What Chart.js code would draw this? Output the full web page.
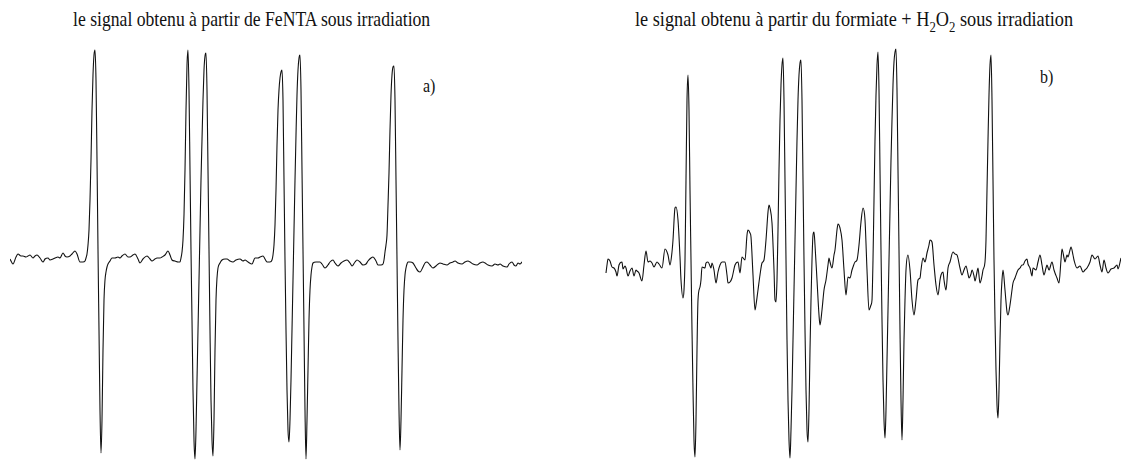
<!DOCTYPE html>
<html>
<head>
<meta charset="utf-8">
<script src="https://cdn.jsdelivr.net/npm/chart.js@4/dist/chart.umd.min.js"></script>
<style>
  html, body { margin: 0; padding: 0; background: #fff; }
  body { width: 1121px; height: 463px; position: relative; overflow: hidden;
         font-family: "Liberation Serif", "Times New Roman", serif; color: #111; }
  canvas { position: absolute; top: 0; }
  #specA { left: 10px; }
  #specB { left: 605px; }
  .title { position: absolute; font-size: 21px; line-height: 21px; white-space: nowrap;
           transform-origin: 0 0; }
  .title sub { font-size: 0.7em; vertical-align: -0.38em; line-height: 0; }
  .tag { position: absolute; font-size: 19px; line-height: 19px; transform-origin: 0 0;
         transform: scaleX(0.84); }
</style>
</head>
<body>
<div class="title" id="titleA" style="left:73px; top:9px; transform: scaleX(0.84);">le signal obtenu à partir de FeNTA sous irradiation</div>
<div class="title" id="titleB" style="left:635px; top:9px; transform: scaleX(0.87);">le signal obtenu à partir du formiate + H<sub>2</sub>O<sub>2</sub> sous irradiation</div>
<div class="tag" style="left:423px; top:76px;">a)</div>
<div class="tag" style="left:1040px; top:67px;">b)</div>
<canvas id="specA" width="512" height="463"></canvas>
<canvas id="specB" width="516" height="463"></canvas>
<script>
// a) FeNTA under irradiation: relative field (arb. units) and first-derivative signal (arb. units)
const fieldA = [0,3,6,8,11,13,16,18,20,23,25,27,30,33,35,38,40,43,45,48,50,53,55,57,60,62,65,67,70,73,75,76,77,78,79,80,81,82,83,84,85,86,87,88,89,90,91,92,93,94,95,96,97,98,100,102,105,108,110,112,115,118,120,123,125,128,130,133,137,140,142,145,147,150,152,155,158,160,162,165,168,170,171,172,173,174,175,176,177,178,179,180,181,182,183,184,185,186,187,188,189,190,191,192,193,194,195,196,197,198,199,200,201,202,203,204,205,206,207,208,210,212,215,217,220,223,226,230,233,235,238,242,245,248,250,253,255,257,260,262,263,264,265,266,267,268,269,270,271,272,273,274,275,276,277,278,279,280,281,282,283,284,285,286,287,288,289,290,291,292,293,294,295,296,297,298,299,300,301,302,303,306,310,312,315,318,320,323,325,328,331,334,337,340,342,345,347,350,353,356,358,361,363,366,368,371,373,374,375,376,377,378,379,380,381,382,383,384,385,386,387,388,389,390,391,392,393,394,395,396,397,398,400,403,406,408,410,413,415,417,420,423,426,430,433,437,440,443,445,448,452,455,458,460,463,467,470,473,475,478,482,485,488,490,493,497,499,502,504,506,508,510,512];
const signalA = [1,-4,3,6,4,4,3,4,5,2,4,5,2,-2,1,2,0,1,2,3,2,7,4,3,4,6,9,6,-2,-2,-1,2,6,15,30,60,100,150,185,205,210,180,100,10,-70,-150,-193,-160,-90,-40,-20,-12,-7,-4,-1,2,2,3,2,4,6,3,3,5,6,1,-3,1,4,1,-1,1,2,2,3,5,9,5,0,-1,-2,-2,2,8,20,45,90,150,195,210,170,90,10,-60,-130,-180,-199,-170,-120,-70,-20,30,80,120,160,190,204,207,170,90,10,-70,-140,-180,-196,-160,-90,-40,-18,-8,-3,0,1,1,-1,-2,0,1,-1,0,-2,-4,2,2,3,4,1,-2,-2,0,5,15,35,70,115,150,170,182,188,190,160,80,0,-70,-130,-170,-182,-160,-120,-70,-20,30,80,125,165,190,202,205,170,90,10,-70,-150,-199,-160,-110,-60,-30,-15,-7,-3,-2,-2,-4,-8,-5,-2,0,-3,-6,-3,-1,0,-3,-6,-2,0,-2,-5,-4,-1,2,3,-1,-5,-5,-4,0,8,15,25,55,87,130,165,185,193,194,160,80,0,-80,-150,-190,-160,-110,-60,-30,-15,-8,-4,-2,-2,-3,-8,-11,-12,-7,-3,-2,-5,-8,-6,-3,-4,-5,-3,-2,-1,-3,-4,-2,-1,-2,-4,-5,-3,-2,-3,-5,-6,-4,-5,-4,-6,-7,-4,-2,-5,-6,-3,-4,-2];

// b) formate + H2O2 under irradiation
const fieldB = [1,2,3,5,7,9,11,12,14,17,18,20,21,23,25,27,29,31,32,34,37,39,41,43,45,47,49,52,54,57,60,63,65,67,68,70,71,73,75,76,78,79,80,81,82,83,84,85,86,87,88,89,90,91,92,93,95,96,97,100,101,103,105,106,107,109,111,113,115,117,120,122,123,125,127,130,133,135,137,140,142,143,145,146,148,150,151,153,155,157,159,161,163,164,165,167,169,170,171,172,173,174,175,176,177,178,179,180,181,182,183,184,185,186,187,188,189,190,191,192,193,194,195,196,197,198,199,200,201,202,203,204,205,206,207,208,209,210,212,214,215,217,219,221,223,224,225,227,229,230,232,233,235,237,239,241,243,245,247,248,250,252,254,256,258,260,262,264,266,267,268,269,270,271,272,273,274,275,276,277,278,279,280,281,282,283,284,285,286,287,288,289,290,291,292,293,294,295,296,297,298,299,300,301,303,305,307,309,311,313,315,316,318,320,322,324,325,327,329,331,333,335,336,338,339,341,343,345,348,350,352,355,357,359,361,363,364,366,367,369,370,372,373,375,377,378,380,381,382,383,384,385,386,387,388,389,390,391,392,393,394,395,396,397,398,400,402,403,405,407,408,410,413,415,417,418,420,422,423,425,427,428,431,433,435,437,439,441,442,444,447,449,450,452,454,456,457,459,460,462,463,465,466,468,469,472,475,478,480,482,485,487,490,493,495,497,499,501,503,506,509,512,513,516];
const signalB = [-5,3,9,7,1,0,-4,-8,3,6,-1,2,0,-8,-3,0,-8,-2,-3,-5,-13,3,17,6,7,5,1,6,4,0,19,13,3,16,28,60,61,48,11,-12,-30,-22,8,88,168,193,158,78,8,-62,-122,-172,-189,-152,-82,-32,-19,-12,1,0,5,6,2,0,5,-2,-15,-4,3,6,6,-7,-15,-14,-10,3,6,-5,11,8,33,38,35,31,-7,-42,-37,-22,-7,5,8,28,56,63,60,45,-2,-32,-34,-12,38,98,148,183,203,210,168,88,8,-72,-132,-172,-190,-162,-122,-72,-22,28,78,128,168,193,205,208,168,88,8,-62,-122,-162,-174,-142,-82,-32,8,33,36,23,-12,-47,-57,-42,-22,-12,3,10,6,0,13,18,38,44,40,28,-2,-27,-9,-10,-2,1,6,8,23,46,60,48,-2,-42,-37,-32,8,68,128,173,203,216,178,98,18,-52,-112,-152,-170,-142,-92,-42,8,58,108,148,183,206,216,219,178,98,18,-62,-132,-172,-132,-72,-32,-2,13,-2,-32,-47,-32,-12,-10,-2,10,6,15,23,28,26,3,-17,-27,-12,-7,-4,-12,-22,0,6,16,14,13,0,-7,-2,2,-6,-10,-6,-2,-8,-13,-4,0,-15,-8,-2,6,28,78,128,173,203,213,168,88,8,-52,-102,-137,-150,-122,-72,-32,-12,-2,-22,-44,-47,-37,-22,-15,-10,-2,0,3,3,7,9,4,0,-8,0,-2,6,13,3,-7,0,3,-2,6,-2,-5,-10,-15,8,19,10,6,13,11,18,21,13,8,0,2,-4,-2,0,6,13,9,12,3,-4,8,0,-5,-1,0,3,-1,10];

function spectrum(canvasId, field, signal, xMax, yMin, yMax) {
  const points = field.map((f, i) => ({ x: f, y: signal[i] }));
  return new Chart(document.getElementById(canvasId), {
    type: 'line',
    data: {
      datasets: [{
        data: points,
        borderColor: '#111',
        borderWidth: 1.1,
        pointRadius: 0,
        fill: false,
        cubicInterpolationMode: 'monotone',
        clip: false
      }]
    },
    options: {
      responsive: false,
      animation: false,
      devicePixelRatio: 1,
      layout: { padding: 0 },
      plugins: { legend: { display: false }, tooltip: { enabled: false }, title: { display: false } },
      scales: {
        x: { type: 'linear', min: 0, max: xMax, display: false },
        y: { type: 'linear', min: yMin, max: yMax, display: false }
      }
    }
  });
}

spectrum('specA', fieldA, signalA, 512, -203, 260);
spectrum('specB', fieldB, signalB, 516, -195, 268);
</script>
</body>
</html>
